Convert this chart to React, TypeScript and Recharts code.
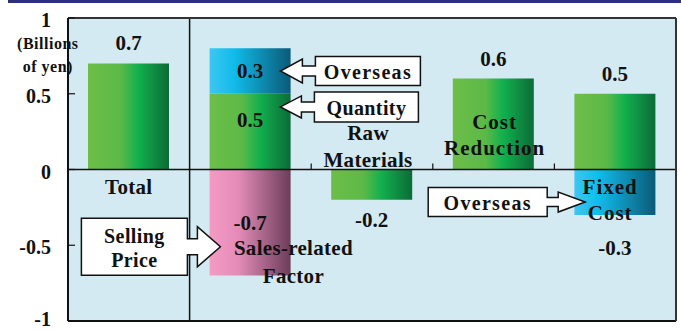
import React from "react";
import { Bar, BarChart, CartesianGrid, LabelList, ReferenceDot, ReferenceLine, XAxis, YAxis } from "recharts";

const categories = ["Total", "Sales-related Factor", "Raw Materials", "Cost Reduction", "Fixed Cost"];
const categoryLines = [["Total"], ["Sales-related", "Factor"], ["Raw", "Materials"], ["Cost", "Reduction"], ["Fixed", "Cost"]];
const mainValues = [0.7, 0.5, -0.2, 0.6, 0.5];
const overseasValues = [0, 0.3, 0, 0, -0.3];
const sellingPriceValues = [0, -0.7, 0, 0, 0];
const yTicks = [-1, -0.5, 0, 0.5, 1];
const unitLines = ["(Billions", "of yen)"];

const data = categories.map((name, i) => ({
  name,
  main: mainValues[i],
  overseas: overseasValues[i],
  selling: sellingPriceValues[i],
}));

const FONT = '"Liberation Serif", "Times New Roman", serif';
const txt = { fontFamily: FONT, fontWeight: 700, fill: "#111" } as const;

// value labels: outside the bar unless another segment sits on top of it
function makeValueLabel(kind: "main" | "overseas" | "selling") {
  return (props: any) => {
    const vb = props.viewBox ?? props;
    const { x, y, width, height } = vb;
    const v = Number(props.value);
    if (!v) return null;
    const idx = props.index ?? 0;
    const top = Math.min(y, y + height);
    const bottom = Math.max(y, y + height);
    let cy: number;
    if (kind === "main") {
      if (v > 0 && overseasValues[idx] > 0) cy = top + (bottom - top) * 0.35;
      else if (v > 0) cy = top - 20;
      else cy = bottom + 20;
    } else if (kind === "overseas") {
      cy = v > 0 ? (top + bottom) / 2 : bottom + 33;
    } else {
      cy = (top + bottom) / 2;
    }
    return (
      <text x={x + width / 2} y={cy} textAnchor="middle" dominantBaseline="central" fontSize={21} style={txt}>
        {v.toFixed(1)}
      </text>
    );
  };
}

function YTick(props: any) {
  const { y, payload } = props;
  return (
    <g>
      <line x1={68} x2={75} y1={y} y2={y} stroke="#111" strokeWidth={1.2} />
      <text x={51} y={Math.min(y + 2, 319)} textAnchor="end" dominantBaseline="central" fontSize={20} style={txt}>
        {payload.value}
      </text>
    </g>
  );
}

function Lines({ cx, cy, lines, dx = 0, gap = 27, size = 21, spacing = 0.3 }: any) {
  return (
    <g>
      {lines.map((l: string, i: number) => (
        <text key={i} x={cx + dx} y={cy + i * gap} textAnchor="middle" dominantBaseline="central"
          fontSize={size} letterSpacing={spacing} style={txt}>
          {l}
        </text>
      ))}
    </g>
  );
}

function Callout({ cx, cy, dir, dx, boxW, boxH, headLen, headHalf, shaftLen, shaftHalf, lines, gap = 24, spacing = 1 }: any) {
  const tx = cx + dx;
  const ty = cy;
  const d = dir === "right" ? 1 : -1;
  const hb = tx - d * headLen;
  const br = hb - d * shaftLen;
  const bl = br - d * boxW;
  const pts = [
    [bl, ty - boxH / 2], [br, ty - boxH / 2], [br, ty - shaftHalf], [hb, ty - shaftHalf], [hb, ty - headHalf],
    [tx, ty], [hb, ty + headHalf], [hb, ty + shaftHalf], [br, ty + shaftHalf], [br, ty + boxH / 2], [bl, ty + boxH / 2],
  ];
  const mid = (bl + br) / 2;
  const y0 = ty - ((lines.length - 1) * gap) / 2;
  return (
    <g>
      <polygon points={pts.map((p) => p.join(",")).join(" ")} fill="#fff" stroke="#111" strokeWidth={1.5} />
      {lines.map((l: string, i: number) => (
        <text key={i} x={mid} y={y0 + i * gap + 1} textAnchor="middle" dominantBaseline="central"
          fontSize={20} letterSpacing={spacing} style={txt}>
          {l}
        </text>
      ))}
    </g>
  );
}

export default function App() {
  return (
    <div style={{ position: "absolute", left: 0, top: 0, width: 681, height: 331, background: "#fff" }}>
      <div style={{ position: "absolute", left: 8, top: 0, width: 673, height: 3, background: "#2e2f7e" }} />
      <BarChart width={681} height={331} data={data} stackOffset="sign"
        margin={{ top: 17, right: 4, bottom: 9, left: 0 }}>
        <defs>
          <linearGradient id="gGreen" x1="0" y1="0" x2="1" y2="0">
            <stop offset="0%" stopColor="#6dbe48" />
            <stop offset="40%" stopColor="#5cb947" />
            <stop offset="62%" stopColor="#12b04e" />
            <stop offset="100%" stopColor="#0b6b37" />
          </linearGradient>
          <linearGradient id="gBlue" x1="0" y1="0" x2="1" y2="0">
            <stop offset="0%" stopColor="#3ec6f2" />
            <stop offset="30%" stopColor="#10bcea" />
            <stop offset="100%" stopColor="#0b5a78" />
          </linearGradient>
          <linearGradient id="gPink" x1="0" y1="0" x2="1" y2="0">
            <stop offset="0%" stopColor="#f49bc4" />
            <stop offset="35%" stopColor="#e48cb8" />
            <stop offset="100%" stopColor="#6c3d5a" />
          </linearGradient>
        </defs>
        <CartesianGrid horizontal={false} vertical={false} fill="#d3eaf2" />
        <XAxis dataKey="name" height={1} tick={false} tickLine={false} axisLine={{ stroke: "#111", strokeWidth: 2 }} />
        <XAxis xAxisId="top" orientation="top" dataKey="name" height={1} tick={false} tickLine={false}
          axisLine={{ stroke: "#333", strokeWidth: 2 }} />
        <YAxis domain={[-1, 1]} ticks={yTicks} width={68} tickLine={false} tick={<YTick />}
          axisLine={{ stroke: "#111", strokeWidth: 2 }} />
        <YAxis yAxisId="right" orientation="right" domain={[-1, 1]} width={1} tick={false} tickLine={false}
          axisLine={{ stroke: "#333", strokeWidth: 2 }} />
        <Bar dataKey="main" stackId="a" fill="url(#gGreen)" barSize={81} isAnimationActive={false}>
          <LabelList dataKey="main" content={makeValueLabel("main")} />
        </Bar>
        <Bar dataKey="overseas" stackId="a" fill="url(#gBlue)" barSize={81} isAnimationActive={false}>
          <LabelList dataKey="overseas" content={makeValueLabel("overseas")} />
        </Bar>
        <Bar dataKey="selling" stackId="a" fill="url(#gPink)" barSize={81} isAnimationActive={false}>
          <LabelList dataKey="selling" content={makeValueLabel("selling")} />
        </Bar>
        <ReferenceLine y={0} stroke="#111" strokeWidth={1.5} />
        <ReferenceLine x={categories[0]} position="end" stroke="#111" strokeWidth={1.5} />
        {categories.slice(1, 4).map((c) => (
          <ReferenceLine key={c} segment={[{ x: c, y: 0 }, { x: c, y: 0.04 }]} position="end" stroke="#111" strokeWidth={1.2} />
        ))}
        <ReferenceDot x={categories[0]} y={-0.115} r={0}
          shape={(p: any) => <Lines cx={p.cx} cy={p.cy} lines={categoryLines[0]} />} />
        <ReferenceDot x={categories[1]} y={-0.52} r={0}
          shape={(p: any) => <Lines cx={p.cx} cy={p.cy} dx={43} gap={28} lines={categoryLines[1]} />} />
        <ReferenceDot x={categories[2]} y={0.24} r={0}
          shape={(p: any) => <Lines cx={p.cx} cy={p.cy} dx={-4} lines={categoryLines[2]} />} />
        <ReferenceDot x={categories[3]} y={0.314} r={0}
          shape={(p: any) => <Lines cx={p.cx} cy={p.cy} dx={1} gap={26} spacing={1} lines={categoryLines[3]} />} />
        <ReferenceDot x={categories[4]} y={-0.115} r={0}
          shape={(p: any) => <Lines cx={p.cx} cy={p.cy} dx={-5} gap={26} spacing={1} lines={categoryLines[4]} />} />
        <ReferenceDot x={categories[0]} y={0.83} r={0}
          shape={(p: any) => <Lines cx={p.cx} cy={p.cy} dx={-81} gap={23} size={16} spacing={0.5} lines={unitLines} />} />
        <ReferenceDot x={categories[1]} y={0.65} r={0}
          shape={(p: any) => (
            <Callout cx={p.cx} cy={p.cy} dir="left" dx={30} boxW={105} boxH={29} headLen={22} headHalf={12}
              shaftLen={13} shaftHalf={5} spacing={1.3} lines={["Overseas"]} />
          )} />
        <ReferenceDot x={categories[1]} y={0.413} r={0}
          shape={(p: any) => (
            <Callout cx={p.cx} cy={p.cy} dir="left" dx={30} boxW={104} boxH={30} headLen={21} headHalf={11}
              shaftLen={13} shaftHalf={5} spacing={0.4} lines={["Quantity"]} />
          )} />
        <ReferenceDot x={categories[1]} y={-0.51} r={0}
          shape={(p: any) => (
            <Callout cx={p.cx} cy={p.cy} dir="right" dx={-30} boxW={106} boxH={57} headLen={23} headHalf={20}
              shaftLen={10} shaftHalf={8} spacing={0.4} lines={["Selling", "Price"]} />
          )} />
        <ReferenceDot x={categories[4]} y={-0.215} r={0}
          shape={(p: any) => (
            <Callout cx={p.cx} cy={p.cy} dir="right" dx={-30} boxW={119} boxH={29} headLen={27} headHalf={10}
              shaftLen={11} shaftHalf={4.5} spacing={1.3} lines={["Overseas"]} />
          )} />
      </BarChart>
    </div>
  );
}
